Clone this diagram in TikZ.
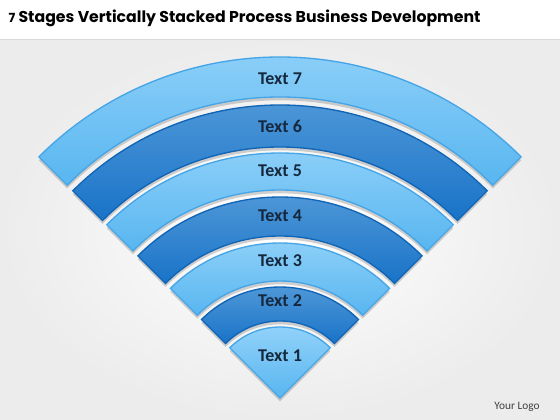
\documentclass[tikz,border=0pt]{standalone}
\usepackage{fontspec}
\setmainfont{Carlito}
\newfontfamily\titlefont{Poppins}
\usetikzlibrary{calc,shadows}
\definecolor{lighttop}{RGB}{150,212,250}
\definecolor{lightbot}{RGB}{88,182,240}
\definecolor{lightedge}{RGB}{70,165,230}
\definecolor{darktop}{RGB}{88,158,218}
\definecolor{darkbot}{RGB}{25,115,200}
\definecolor{darkedge}{RGB}{15,100,182}
\definecolor{labeltext}{RGB}{22,40,62}
\definecolor{backgray}{RGB}{236,236,236}
\tikzset{every picture/.style={line width=0.75pt}}
\tikzset{
	lightband/.style={top color=lighttop, bottom color=lightbot, draw=lightedge, line width=1pt,
		drop shadow={shadow xshift=0pt, shadow yshift=-2.5pt, opacity=0.25, fill=black!70}},
	darkband/.style={top color=darktop, bottom color=darkbot, draw=darkedge, line width=1pt,
		drop shadow={shadow xshift=0pt, shadow yshift=-2.5pt, opacity=0.25, fill=black!70}},
	bandlabel/.style={font=\fontsize{13.5}{15}\selectfont\bfseries, text=labeltext}}

\begin{document}
\begin{tikzpicture}[x=0.75pt,y=0.75pt,yscale=-1,xscale=1]
	\useasboundingbox (0,0) rectangle (560,420);

	%Background
	\fill [white] (0,0) rectangle (560,40);
	\shade [inner color=white, outer color=backgray] (0,40) rectangle (560,420);
	\draw [black!15, line width=1.2pt] (0,39.5) -- (560,39.5);

	\coordinate (apex) at (280,398);

	%Shape: Band 7
	\draw [lightband] ($(apex)+(-135:341)$) arc [start angle=-135, end angle=-45, radius=341] -- ($(apex)+(-45:301)$) arc [start angle=-45, end angle=-135, radius=301] -- cycle ;
	%Shape: Band 6
	\draw [darkband] ($(apex)+(-135:293)$) arc [start angle=-135, end angle=-45, radius=293] -- ($(apex)+(-45:251)$) arc [start angle=-45, end angle=-135, radius=251] -- cycle ;
	%Shape: Band 5
	\draw [lightband] ($(apex)+(-135:245)$) arc [start angle=-135, end angle=-45, radius=245] -- ($(apex)+(-45:208)$) arc [start angle=-45, end angle=-135, radius=208] -- cycle ;
	%Shape: Band 4
	\draw [darkband] ($(apex)+(-135:201)$) arc [start angle=-135, end angle=-45, radius=201] -- ($(apex)+(-45:162)$) arc [start angle=-45, end angle=-135, radius=162] -- cycle ;
	%Shape: Band 3
	\draw [lightband] ($(apex)+(-135:155)$) arc [start angle=-135, end angle=-45, radius=155] -- ($(apex)+(-45:117)$) arc [start angle=-45, end angle=-135, radius=117] -- cycle ;
	%Shape: Band 2
	\draw [darkband] ($(apex)+(-135:111)$) arc [start angle=-135, end angle=-45, radius=111] -- ($(apex)+(-45:77)$) arc [start angle=-45, end angle=-135, radius=77] -- cycle ;
	%Shape: Sector 1
	\draw [lightband] (apex) -- ($(apex)+(-135:71)$) arc [start angle=-135, end angle=-45, radius=71] -- cycle ;

	% Text Node
	\node [bandlabel] (t7) at (280,79) {Text 7};
	% Text Node
	\node [bandlabel] (t6) at (280,126) {Text 6};
	% Text Node
	\node [bandlabel] (t5) at (280,171) {Text 5};
	% Text Node
	\node [bandlabel] (t4) at (280,216) {Text 4};
	% Text Node
	\node [bandlabel] (t3) at (280,261) {Text 3};
	% Text Node
	\node [bandlabel] (t2) at (280,301) {Text 2};
	% Text Node
	\node [bandlabel] (t1) at (280,356) {Text 1};

	% Title
	\node [anchor=west, inner sep=0pt, text=black] (title) at (8,18) {\resizebox{354pt}{!}{\titlefont\bfseries{\footnotesize 7} Stages Vertically Stacked Process Business Development}};
	% Logo
	\node [font=\fontsize{8.5}{10}\selectfont, text=black!75] (logo) at (517,407) {Your Logo};

\end{tikzpicture}
\end{document}
